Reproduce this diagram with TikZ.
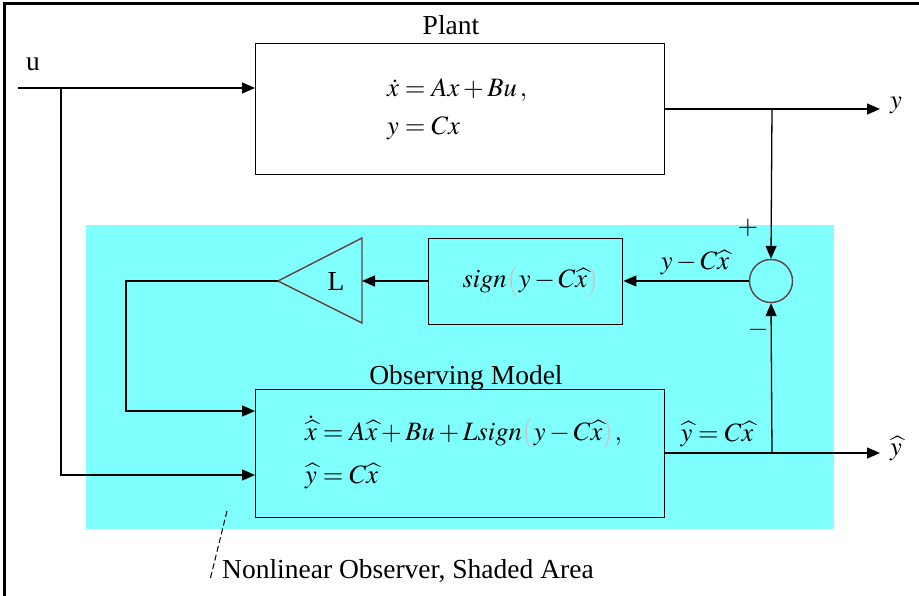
\documentclass[tikz,border=0pt]{standalone}
\usepackage{mathptmx}
\usepackage{fontspec}
\setmainfont{Liberation Serif}
\usetikzlibrary{arrows.meta}
\definecolor{cyanfill}{RGB}{128,255,255}
\definecolor{edgebrown}{RGB}{100,64,64}
\tikzset{
  blk/.style={draw=black,line width=1.4pt,inner sep=0pt,anchor=north west},
  conn/.style={line width=1.3pt},
  arr/.style={conn,-{Triangle[length=13pt,width=11pt]}},
  txt/.style={inner sep=0pt,font=\fontsize{27.5}{32}\selectfont},
  mth/.style={inner sep=0pt,font=\fontsize{26.5}{30}\selectfont},
}
\newcommand{\hx}{\widehat{x}}
\newcommand{\hy}{\widehat{y}}
\newcommand{\gp}[1]{{\color{gray!45}#1}}
\begin{document}
\begin{tikzpicture}[x=1pt,y=-1pt]
\useasboundingbox (0,0) rectangle (919,596);
% frame (top and left only)
\draw[line width=3pt] (3,3.5) -- (919,3.5);
\draw[line width=3pt] (4.5,2) -- (4.5,596);
% shaded area
\fill[cyanfill] (86,225) rectangle (834,529);
% blocks
\node[blk,minimum width=409pt,minimum height=131pt] (plant) at (255,43) {};
\node[blk,minimum width=409pt,minimum height=128pt] (obs) at (255,389) {};
\node[blk,minimum width=194pt,minimum height=86pt] (sgn) at (428,238) {};
\node[draw=edgebrown,line width=1.4pt,circle,minimum size=43pt,inner sep=0pt] (sum) at (771,281) {};
% gain triangle
\coordinate (gtip) at (278,281);
\coordinate (gin) at (362,281);
\draw[edgebrown,line width=1.4pt] (gtip) -- (362,238) -- (362,323) -- cycle;
\node[txt] (gL) at (336,281) {L};
% labels
\node[txt,anchor=base] (plantlbl) at (451,35) {Plant};
\node[txt,anchor=base] (obslbl) at (466,384) {Observing Model};
\node[txt,anchor=base west] (ulbl) at (26,71) {u};
\node[mth,anchor=base west] (peq1) at (387,97) {$\dot{x}=Ax+Bu\,,$};
\node[mth,anchor=base west] (peq2) at (387,135) {$y=Cx$};
\node[mth,anchor=base west] (oeq1) at (305,440) {$\dot{\hx}=A\hx+Bu+Lsign\gp{\big(}y-C\hx\gp{\big)},$};
\node[mth,anchor=base west] (oeq2) at (305,483) {$\hy=C\hx$};
\node[mth] (sgntxt) at (531,281) {$sign\gp{\big(}y-C\hx\gp{\big)}$};
\node[mth,anchor=base] (errlbl) at (695,270) {$y-C\hx$};
\node[mth,anchor=base] (yhlbl) at (717,441) {$\hy=C\hx$};
\node[mth,anchor=base] (plus) at (748,235) {$+$};
\node[mth,anchor=base] (minus) at (758,337) {$-$};
\node[mth,anchor=west] (yout) at (890,105) {$y$};
\node[mth,anchor=west] (yhout) at (890,449) {$\hy$};
% junctions and free ends
\coordinate (uin) at (18,88);
\coordinate (j1) at (61,88);
\coordinate (j2) at (772,109);
\coordinate (j3) at (772,453);
\coordinate (yend) at (880,109);
\coordinate (yhend) at (880,453);
% connectors
\draw[arr] (uin) -- (plant.west |- uin);
\draw[arr] (j1) |- (obs.west |- 0,475);
\draw[conn] (plant.east |- j2) -- (j2);
\draw[arr] (j2) -- (yend);
\draw[arr] (j2) -- (sum.north);
\draw[arr] (sum.west) -- (sgn.east |- sum.west);
\draw[arr] (sgn.west |- gin) -- (gin);
\draw[arr] (gtip) -- (126,281) |- (obs.west |- 0,411);
\draw[conn] (obs.east |- j3) -- (j3);
\draw[arr] (j3) -- (yhend);
\draw[arr] (j3) -- (sum.south);
% annotation
\draw[line width=1pt,dash pattern=on 6pt off 3pt] (227,511) -- (210,580);
\node[txt,anchor=base west] (note) at (222,578) {Nonlinear Observer, Shaded Area};
\end{tikzpicture}
\end{document}
